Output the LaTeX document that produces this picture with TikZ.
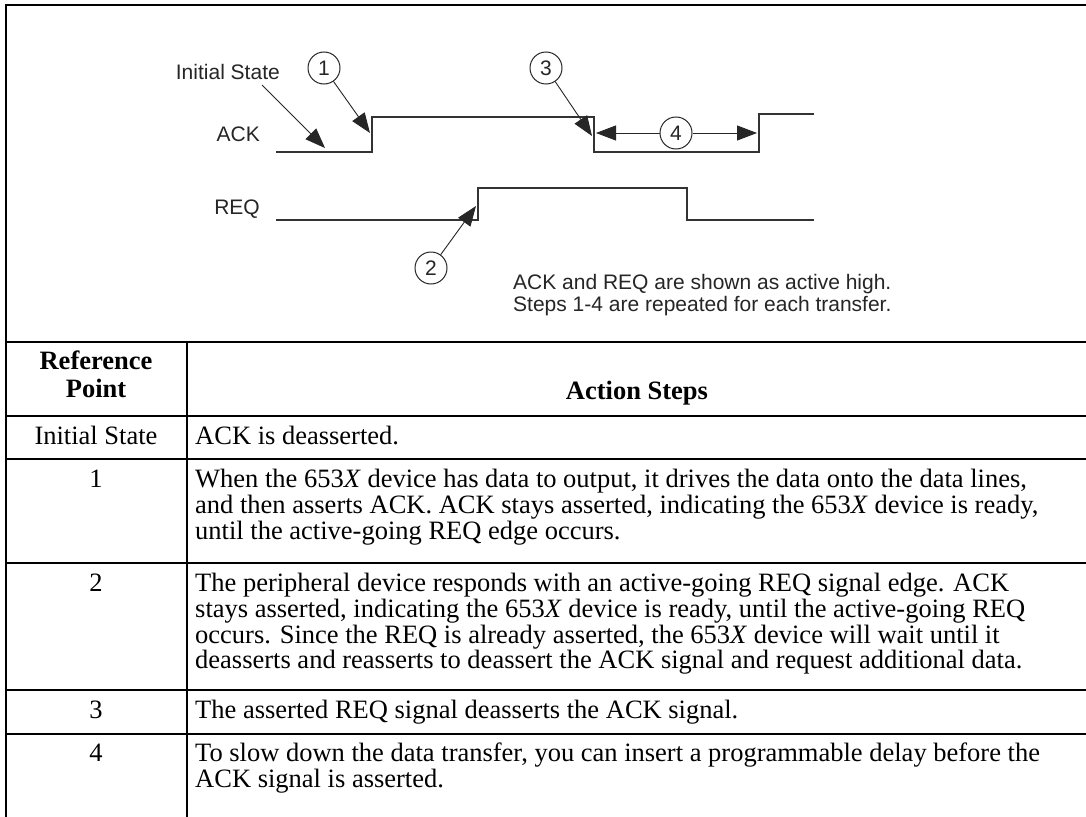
\documentclass[tikz,border=0pt]{standalone}
\usepackage{fontspec}
\setmainfont{Liberation Serif}
\newfontfamily\diagfont{Liberation Sans}
\usetikzlibrary{arrows.meta}
\begin{document}
\begin{tikzpicture}[x=1pt,y=-1pt,
  rule/.style={line width=2pt,black,line cap=rect},
  sig/.style={line width=1.1pt,black!80},
  lbl/.style={font=\diagfont\fontsize{21}{23}\selectfont,text=black!85,inner sep=0pt},
  callout/.style={circle,draw=black!85,line width=1pt,minimum size=32pt,inner sep=0pt,
    font=\diagfont\fontsize{21}{23}\selectfont,text=black!85},
  pointer/.style={line width=0.9pt,black!85,-{Triangle[length=20pt,width=15pt]}},
  cell/.style={font=\fontsize{26.5}{26}\selectfont,inner sep=0pt,anchor=base west},
  cellc/.style={font=\fontsize{26.5}{26}\selectfont,inner sep=0pt,anchor=base},
  headc/.style={font=\bfseries\fontsize{26.5}{27}\selectfont,inner sep=0pt,anchor=base}]
\useasboundingbox (0,0) rectangle (1086,816);
\fill[white] (0,0) rectangle (1086,816);

% ---------- frame and table rules ----------
\draw[rule] (6,816) -- (6,5) -- (1086,5);
\draw[rule] (6,342) -- (1086,342);
\draw[rule] (6,416) -- (1086,416);
\draw[rule] (6,459) -- (1086,459);
\draw[rule] (6,563) -- (1086,563);
\draw[rule] (6,690) -- (1086,690);
\draw[rule] (6,734) -- (1086,734);
\draw[rule] (187,342) -- (187,816);

% ---------- timing signals ----------
\coordinate (a0) at (276,152); \coordinate (a1) at (372,152);
\coordinate (a2) at (372,117); \coordinate (a3) at (594,117);
\coordinate (a4) at (594,152); \coordinate (a5) at (759,152);
\coordinate (a6) at (759,114); \coordinate (a7) at (814,114);
\draw[sig] (a0) -- (a1) -- (a2) -- (a3) -- (a4) -- (a5) -- (a6) -- (a7);

\coordinate (r0) at (276,220); \coordinate (r1) at (478,220);
\coordinate (r2) at (478,188); \coordinate (r3) at (687,188);
\coordinate (r4) at (687,220); \coordinate (r5) at (814,220);
\draw[sig] (r0) -- (r1) -- (r2) -- (r3) -- (r4) -- (r5);

% ---------- labels ----------
\node[lbl,anchor=east] (init) at (280,72) {Initial State};
\node[lbl,anchor=east] (ack) at (260,134) {ACK};
\node[lbl,anchor=east] (req) at (260,209) {REQ};
\node[lbl,anchor=base west] (note1) at (513,289) {ACK and REQ are shown as active high.};
\node[lbl,anchor=base west] (note2) at (513,311) {Steps 1-4 are repeated for each transfer.};

% ---------- callouts ----------
\node[callout] (c1) at (324,68) {1};
\node[callout] (c2) at (431,268) {2};
\node[callout] (c3) at (546,68) {3};
\node[callout] (c4) at (676,133) {4};

\coordinate (sInit) at (262,85);
\coordinate (tInit) at (325,148);
\coordinate (t1) at (370,133);
\coordinate (t2) at (476,206);
\coordinate (t3) at (592,136);
\coordinate (t4l) at (596,133);
\coordinate (t4r) at (757,133);

\draw[pointer] (sInit) -- (tInit);
\draw[pointer] (c1) -- (t1);
\draw[pointer] (c2) -- (t2);
\draw[pointer] (c3) -- (t3);
\draw[pointer] (c4) -- (t4l);
\draw[pointer] (c4) -- (t4r);

% ---------- table header ----------
\node[headc] (h1a) at (96,369) {Reference};
\node[headc] (h1b) at (96,397) {Point};
\node[headc] (h2) at (637,399) {Action Steps};

% ---------- rows ----------
\node[cellc] (k0) at (96,444) {Initial State};
\node[cell] (d0) at (195,444) {ACK is deasserted.};

\node[cellc] (k1) at (96,487) {1};
\node[cell] (d1a) at (195,487) {When the 653\textit{X} device has data to output, it drives the data onto the data lines,};
\node[cell] (d1b) at (195,513) {and then asserts ACK. ACK stays asserted, indicating the 653\textit{X} device is ready,};
\node[cell] (d1c) at (195,539) {until the active-going REQ edge occurs.};

\node[cellc] (k2) at (96,591) {2};
\node[cell] (d2a) at (195,591) {The peripheral device responds with an active-going REQ signal edge. ACK};
\node[cell] (d2b) at (195,617) {stays asserted, indicating the 653\textit{X} device is ready, until the active-going REQ};
\node[cell] (d2c) at (195,643) {occurs. Since the REQ is already asserted, the 653\textit{X} device will wait until it};
\node[cell] (d2d) at (195,668) {deasserts and reasserts to deassert the ACK signal and request additional data.};

\node[cellc] (k3) at (96,718) {3};
\node[cell] (d3) at (195,718) {The asserted REQ signal deasserts the ACK signal.};

\node[cellc] (k4) at (96,761) {4};
\node[cell] (d4a) at (195,761) {To slow down the data transfer, you can insert a programmable delay before the};
\node[cell] (d4b) at (195,787) {ACK signal is asserted.};
\end{tikzpicture}
\end{document}
